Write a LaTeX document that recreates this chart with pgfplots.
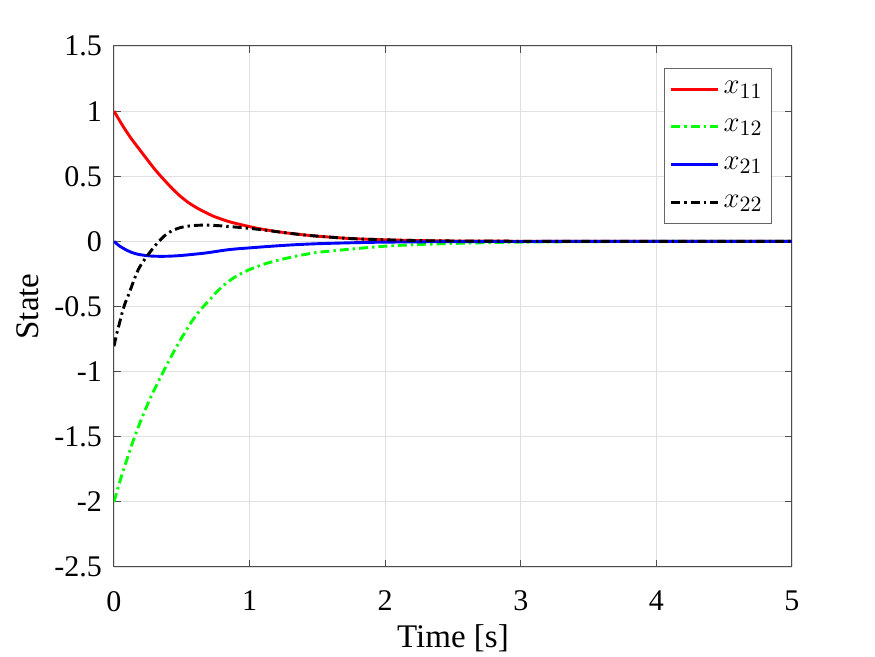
\documentclass[border=0pt]{standalone}
\usepackage{fontspec}
\setmainfont{Liberation Serif}
\usepackage{pgfplots}
\pgfplotsset{compat=1.18}
\begin{document}
\begin{tikzpicture}
\useasboundingbox (-57pt,-45pt) rectangle (380.5pt,283.5pt);
\begin{axis}[
  at={(0,0)}, anchor=south west,
  scale only axis, width=339pt, height=260.5pt,
  xmin=0, xmax=5, ymin=-2.5, ymax=1.5,
  xtick={0,1,2,3,4,5},
  ytick={-2.5,-2,-1.5,-1,-0.5,0,0.5,1,1.5},
  /pgf/number format/assume math mode=true,
  /pgf/number format/fixed,
  ticklabel style={font=\fontsize{15}{18}\selectfont},
  xticklabel style={yshift=-8.5pt},
  yticklabel style={xshift=-2.5pt},
  label style={font=\fontsize{16.5}{19}\selectfont},
  xlabel={Time [s]}, ylabel={State},
  xlabel style={yshift=0pt},
  ylabel style={yshift=1pt},
  grid=major,
  major grid style={draw=black!12, line width=0.4pt},
  axis line style={draw=black!70, line width=0.5pt},
  tick style={draw=black!70, line width=0.5pt},
  tick align=inside, major tick length=3.5pt,
  xtick pos=both, ytick pos=both,
  legend style={at={(0.9705,0.958)}, anchor=north east, draw=black!60, line width=0.5pt,
    font=\fontsize{15.8}{18}\selectfont, row sep=7.2pt, inner xsep=2.5pt, inner ysep=4.5pt,
    cells={anchor=west}},
  legend cell align=left,
  legend image code/.code={\draw[#1] (0pt,0pt) -- (23.5pt,0pt);},
  every axis plot/.append style={line width=1.45pt, smooth, tension=0.45},
]
\addplot[color=red, solid] coordinates {
(0,1) (0.06,0.895) (0.123,0.795) (0.185,0.71) (0.245,0.628) (0.305,0.548) (0.368,0.474) (0.43,0.405) (0.49,0.346) (0.55,0.297) (0.613,0.256) (0.675,0.222) (0.736,0.192) (0.8,0.168) (0.86,0.148) (0.93,0.13) (1.0,0.113) (1.1,0.092) (1.25,0.068) (1.37,0.053) (1.5,0.04) (1.74,0.022) (2,0.012) (2.25,0.006) (2.5,0.003) (3,0.001) (3.5,0) (5,0)};
\addlegendentry{$x_{11}$}
\addplot[color=green, dash pattern=on 4.5pt off 2pt on 1.2pt off 2pt] coordinates {
(0,-2) (0.05,-1.82) (0.1,-1.66) (0.142,-1.53) (0.2,-1.37) (0.265,-1.21) (0.33,-1.07) (0.389,-0.95) (0.45,-0.83) (0.511,-0.72) (0.57,-0.62) (0.634,-0.53) (0.7,-0.455) (0.76,-0.385) (0.82,-0.328) (0.88,-0.282) (0.94,-0.246) (1.0,-0.216) (1.1,-0.177) (1.22,-0.142) (1.35,-0.112) (1.49,-0.086) (1.62,-0.072) (1.74,-0.06) (2.0,-0.037) (2.25,-0.024) (2.5,-0.016) (2.75,-0.01) (3,-0.006) (3.5,-0.002) (4,-0.0005) (4.5,0) (5,0)};
\addlegendentry{$x_{12}$}
\addplot[color=blue, solid] coordinates {
(0,0) (0.04,-0.035) (0.08,-0.06) (0.13,-0.085) (0.18,-0.10) (0.23,-0.108) (0.278,-0.113) (0.35,-0.115) (0.425,-0.113) (0.5,-0.108) (0.58,-0.10) (0.67,-0.09) (0.75,-0.078) (0.82,-0.067) (0.9,-0.058) (1.0,-0.05) (1.1,-0.042) (1.25,-0.031) (1.37,-0.024) (1.5,-0.018) (1.74,-0.011) (2,-0.006) (2.5,-0.002) (3,-0.001) (3.5,0) (5,0)};
\addlegendentry{$x_{21}$}
\addplot[color=black, dash pattern=on 4.5pt off 2pt on 1.2pt off 2pt] coordinates {
(0,-0.805) (0.02,-0.71) (0.04,-0.63) (0.057,-0.56) (0.08,-0.48) (0.1,-0.43) (0.118,-0.38) (0.15,-0.29) (0.18,-0.215) (0.215,-0.155) (0.253,-0.10) (0.29,-0.05) (0.327,-0.005) (0.375,0.045) (0.425,0.08) (0.49,0.106) (0.548,0.117) (0.61,0.123) (0.67,0.125) (0.73,0.123) (0.79,0.119) (0.88,0.111) (1.0,0.100) (1.1,0.088) (1.25,0.068) (1.37,0.053) (1.5,0.04) (1.74,0.022) (2,0.012) (2.25,0.006) (2.5,0.003) (3,0.001) (3.5,0) (5,0)};
\addlegendentry{$x_{22}$}
\end{axis}
\end{tikzpicture}
\end{document}
